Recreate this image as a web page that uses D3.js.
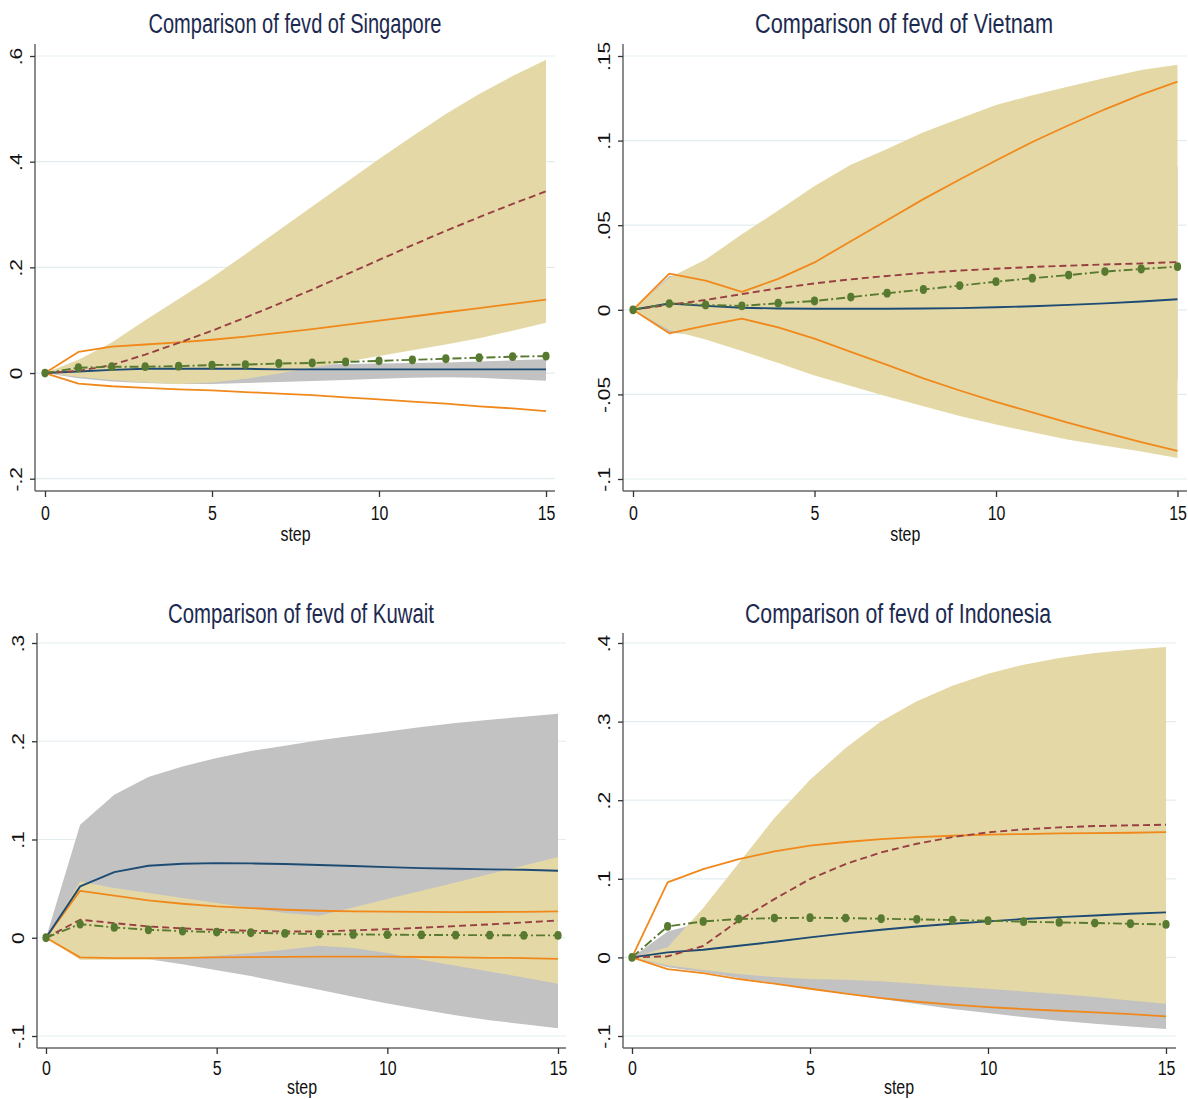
<!DOCTYPE html>
<html><head><meta charset="utf-8">
<script src="https://cdn.jsdelivr.net/npm/d3@7"></script>
<style>body{margin:0;background:#fff}svg{display:block}</style>
</head><body>
<svg id="chart" width="1188" height="1099"></svg>
<script>
// ---------- data ----------
const steps = [0,1,2,3,4,5,6,7,8,9,10,11,12,13,14,15];
const xTicks = [0,5,10,15];

// Singapore
const sgTanHi    = [0,0.025,0.058,0.1,0.14,0.181,0.225,0.27,0.315,0.36,0.405,0.448,0.49,0.528,0.562,0.593];
const sgTanLo    = [0,-0.007,-0.013,-0.018,-0.021,-0.018,-0.011,-0.001,0.01,0.021,0.032,0.043,0.054,0.066,0.08,0.095];
const sgGrayHi   = [0,0.006,0.009,0.011,0.012,0.013,0.014,0.015,0.016,0.017,0.018,0.019,0.02,0.022,0.024,0.026];
const sgGrayLo   = [0,-0.01,-0.016,-0.019,-0.021,-0.021,-0.019,-0.017,-0.015,-0.013,-0.011,-0.009,-0.008,-0.009,-0.012,-0.0145];
const sgOrangeHi = [0,0.04,0.05,0.054,0.058,0.063,0.069,0.076,0.083,0.091,0.099,0.107,0.115,0.123,0.131,0.139];
const sgOrangeLo = [0,-0.02,-0.025,-0.028,-0.031,-0.033,-0.036,-0.039,-0.042,-0.046,-0.05,-0.054,-0.058,-0.063,-0.067,-0.072];
const sgNavy     = [0,0.003,0.006,0.008,0.008,0.008,0.008,0.007,0.007,0.007,0.007,0.007,0.007,0.007,0.007,0.007];
const sgMaroon   = [0,0.004,0.015,0.035,0.057,0.08,0.105,0.131,0.158,0.186,0.214,0.242,0.269,0.295,0.32,0.344];
const sgGreen    = [0,0.01,0.012,0.012,0.013,0.015,0.016,0.018,0.019,0.021,0.023,0.025,0.027,0.029,0.031,0.032];
const sgYTicks   = [0.6,0.4,0.2,0,-0.2];
const sgYLabels  = [".6",".4",".2","0","-.2"];

// Vietnam
const vnTanHi    = [0,0.019,0.0297,0.0446,0.0587,0.0732,0.0857,0.095,0.105,0.113,0.121,0.1268,0.132,0.137,0.1417,0.1448];
const vnTanLo    = [0,-0.012,-0.0176,-0.0243,-0.0315,-0.0388,-0.045,-0.0512,-0.057,-0.0627,-0.0678,-0.0724,-0.0768,-0.0803,-0.0838,-0.0876];
const vnGrayHi   = [0,0.02,0.022,0.025,0.03,0.035,0.04,0.045,0.05,0.055,0.06,0.065,0.07,0.075,0.08,0.085];
const vnGrayLo   = [0,-0.0135,-0.015,-0.018,-0.02,-0.022,-0.024,-0.026,-0.028,-0.03,-0.032,-0.034,-0.036,-0.038,-0.04,-0.042];
const vnOrangeHi = [0,0.0214,0.0172,0.0106,0.0183,0.028,0.0405,0.0529,0.0654,0.077,0.0882,0.0992,0.1091,0.1185,0.1272,0.1349];
const vnOrangeLo = [0,-0.0139,-0.0093,-0.0052,-0.0104,-0.017,-0.0249,-0.0326,-0.0405,-0.0477,-0.0544,-0.0606,-0.0668,-0.0726,-0.0782,-0.0834];
const vnNavy     = [0,0.0037,0.0023,0.0012,0.0008,0.0006,0.0006,0.0006,0.0008,0.001,0.0015,0.0021,0.0029,0.0038,0.0049,0.0062];
const vnMaroon   = [0,0.003,0.0058,0.0093,0.0127,0.0156,0.018,0.02,0.0218,0.0232,0.0243,0.0253,0.0261,0.0268,0.0274,0.0282];
const vnGreen    = [0,0.0037,0.0029,0.0023,0.0039,0.0052,0.0075,0.0098,0.012,0.0143,0.0166,0.0187,0.0205,0.0226,0.0241,0.0255];
const vnYTicks   = [0.15,0.1,0.05,0,-0.05,-0.1];
const vnYLabels  = [".15",".1",".05","0","-.05","-.1"];

// Kuwait
const kwTanHi    = [0,0.0573,0.0506,0.0455,0.0404,0.0353,0.0302,0.0251,0.0224,0.0309,0.0394,0.0479,0.0563,0.0648,0.0736,0.0821];
const kwTanLo    = [0,-0.0224,-0.0224,-0.0224,-0.0207,-0.0183,-0.0156,-0.0122,-0.0081,-0.0105,-0.0156,-0.0224,-0.0285,-0.0343,-0.0404,-0.0468];
const kwGrayHi   = [0,0.115,0.1456,0.1636,0.1744,0.183,0.19,0.1955,0.2009,0.2056,0.21,0.2144,0.2185,0.222,0.225,0.228];
const kwGrayLo   = [0,-0.02,-0.0207,-0.022,-0.027,-0.033,-0.039,-0.046,-0.053,-0.06,-0.067,-0.073,-0.079,-0.084,-0.088,-0.092];
const kwOrangeHi = [0,0.0478,0.0428,0.038,0.0346,0.0319,0.0302,0.0285,0.0275,0.0268,0.0265,0.0263,0.0261,0.0262,0.0264,0.0268];
const kwOrangeLo = [0,-0.02,-0.0207,-0.0207,-0.0204,-0.02,-0.0197,-0.0195,-0.0193,-0.0193,-0.0193,-0.0196,-0.02,-0.0204,-0.0207,-0.0214];
const kwNavy     = [0,0.0523,0.0668,0.0733,0.0753,0.076,0.0757,0.075,0.074,0.073,0.0719,0.0709,0.0702,0.0696,0.0692,0.0682];
const kwMaroon   = [0,0.0183,0.0149,0.0115,0.0095,0.0081,0.0071,0.0064,0.0064,0.0075,0.0088,0.0102,0.0119,0.0136,0.0156,0.0176];
const kwGreen    = [0,0.0139,0.0105,0.0081,0.0068,0.0058,0.0051,0.0044,0.0037,0.0034,0.0031,0.0029,0.0027,0.0026,0.0024,0.0024];
const kwYTicks   = [0.3,0.2,0.1,0,-0.1];
const kwYLabels  = [".3",".2",".1","0","-.1"];

// Indonesia
const idTanHi    = [0,0.013,0.063,0.12,0.1773,0.226,0.2664,0.3003,0.3258,0.3457,0.361,0.3724,0.3809,0.3873,0.3915,0.395];
const idTanLo    = [0,-0.01,-0.016,-0.021,-0.025,-0.0276,-0.0284,-0.0305,-0.0335,-0.0369,-0.0399,-0.0433,-0.0467,-0.0505,-0.0547,-0.059];
const idGrayHi   = [0,0.033,0.045,0.055,0.065,0.075,0.085,0.095,0.105,0.115,0.125,0.135,0.145,0.155,0.165,0.175];
const idGrayLo   = [0,-0.0126,-0.019,-0.0263,-0.0327,-0.0399,-0.0467,-0.053,-0.0594,-0.0657,-0.0708,-0.0759,-0.0806,-0.0844,-0.0878,-0.0912];
const idOrangeHi = [0,0.0954,0.1124,0.1251,0.1349,0.1421,0.1468,0.1506,0.1531,0.1548,0.1561,0.1569,0.1578,0.1582,0.1586,0.1595];
const idOrangeLo = [0,-0.015,-0.02,-0.0275,-0.0335,-0.0399,-0.0462,-0.0517,-0.0564,-0.0602,-0.0632,-0.0657,-0.0679,-0.07,-0.0721,-0.0751];
const idNavy     = [0,0.0064,0.0098,0.0148,0.0199,0.0255,0.0305,0.0352,0.0394,0.0428,0.0458,0.0488,0.0513,0.0534,0.0556,0.0573];
const idMaroon   = [0,0.0013,0.0145,0.047,0.0742,0.0997,0.1188,0.1336,0.1446,0.1531,0.1591,0.1629,0.1654,0.1671,0.168,0.1688];
const idGreen    = [0,0.0394,0.0458,0.0488,0.05,0.0505,0.05,0.0492,0.0484,0.0475,0.0467,0.0454,0.0445,0.0437,0.0428,0.042];
const idYTicks   = [0.4,0.3,0.2,0.1,0,-0.1];
const idYLabels  = [".4",".3",".2",".1","0","-.1"];

// ---------- layout ----------
const panels = [
  {title:"Comparison of fevd of Singapore", titleX:295, titleW:293, titleY:33,
   axisX:35, x0:45, x15:546, right:555, top:44, bottom:491, yPix:[478.7,56], tickY:520, stepY:541,
   yTicks:sgYTicks, yLabels:sgYLabels,
   tanHi:sgTanHi, tanLo:sgTanLo, grayHi:sgGrayHi, grayLo:sgGrayLo, orHi:sgOrangeHi, orLo:sgOrangeLo,
   navy:sgNavy, maroon:sgMaroon, green:sgGreen},
  {title:"Comparison of fevd of Vietnam", titleX:904, titleW:298, titleY:33,
   axisX:623, x0:633, x15:1177.5, right:1187, top:44, bottom:491, yPix:[479,56], tickY:520, stepY:541,
   yTicks:vnYTicks, yLabels:vnYLabels,
   tanHi:vnTanHi, tanLo:vnTanLo, grayHi:vnGrayHi, grayLo:vnGrayLo, orHi:vnOrangeHi, orLo:vnOrangeLo,
   navy:vnNavy, maroon:vnMaroon, green:vnGreen},
  {title:"Comparison of fevd of Kuwait", titleX:301, titleW:266, titleY:623,
   axisX:37, x0:46, x15:558, right:566, top:633, bottom:1048, yPix:[1036,643], tickY:1075, stepY:1094,
   yTicks:kwYTicks, yLabels:kwYLabels,
   tanHi:kwTanHi, tanLo:kwTanLo, grayHi:kwGrayHi, grayLo:kwGrayLo, orHi:kwOrangeHi, orLo:kwOrangeLo,
   navy:kwNavy, maroon:kwMaroon, green:kwGreen},
  {title:"Comparison of fevd of Indonesia", titleX:898, titleW:306, titleY:623,
   axisX:623, x0:632, x15:1166, right:1176, top:633, bottom:1048, yPix:[1036,643], tickY:1075, stepY:1094,
   yTicks:idYTicks, yLabels:idYLabels,
   tanHi:idTanHi, tanLo:idTanLo, grayHi:idGrayHi, grayLo:idGrayLo, orHi:idOrangeHi, orLo:idOrangeLo,
   navy:idNavy, maroon:idMaroon, green:idGreen}
];

const C = {tan:"#e4d9a6", gray:"#c2c2c2", orange:"#f0881c", navy:"#1d4b73", maroon:"#983f44",
           green:"#587a30", grid:"#e3edf0", axis:"#666", title:"#1c2a50"};
const FONT = "'Liberation Sans', Arial, Helvetica, sans-serif";
const SQ = 0.76;

const svg = d3.select("#chart");
svg.append("rect").attr("width",1188).attr("height",1099).attr("fill","#fff");

panels.forEach(p => {
  const g = svg.append("g");
  const x = d3.scaleLinear().domain([0,15]).range([p.x0, p.x15]);
  const yMin = p.yTicks[p.yTicks.length-1], yMax = p.yTicks[0];
  const y = d3.scaleLinear().domain([yMin, yMax]).range(p.yPix);

  // grid
  g.append("g").selectAll("line").data(p.yTicks).join("line")
    .attr("x1", p.axisX).attr("x2", p.right)
    .attr("y1", d => y(d)).attr("y2", d => y(d))
    .attr("stroke", C.grid).attr("stroke-width", 1.2);

  const band = (lo, hi) => d3.area()
    .x((d,i) => x(steps[i])).y0((d,i) => y(lo[i])).y1((d,i) => y(hi[i]))(steps);
  const line = arr => d3.line().x((d,i) => x(steps[i])).y((d,i) => y(arr[i]))(steps);

  g.append("path").attr("d", band(p.grayLo, p.grayHi)).attr("fill", C.gray);
  g.append("path").attr("d", band(p.tanLo, p.tanHi)).attr("fill", C.tan);

  const stroke = (arr, col, w, dash) => g.append("path").attr("d", line(arr))
    .attr("fill","none").attr("stroke", col).attr("stroke-width", w)
    .attr("stroke-dasharray", dash || null).attr("stroke-linejoin","round");

  stroke(p.orHi, C.orange, 1.8);
  stroke(p.orLo, C.orange, 1.8);
  stroke(p.navy, C.navy, 1.9);
  stroke(p.maroon, C.maroon, 1.9, "7,4");
  stroke(p.green, C.green, 1.9, "9,3,2,3");
  g.append("g").selectAll("ellipse").data(steps).join("ellipse")
    .attr("cx", d => x(d)).attr("cy", (d,i) => y(p.green[i]))
    .attr("rx", 3.6).attr("ry", 4.4).attr("fill", C.green);

  // axes lines
  g.append("line").attr("x1", p.axisX).attr("x2", p.axisX).attr("y1", p.top).attr("y2", p.bottom)
    .attr("stroke", C.axis).attr("stroke-width", 1.5);
  g.append("line").attr("x1", p.axisX).attr("x2", p.right).attr("y1", p.bottom).attr("y2", p.bottom)
    .attr("stroke", C.axis).attr("stroke-width", 1.5);

  // y axis
  const ya = g.append("g").attr("transform", `translate(${p.axisX},0)`)
    .call(d3.axisLeft(y).tickValues(p.yTicks).tickFormat((d,i) => p.yLabels[i]).tickSize(5));
  ya.select(".domain").remove();
  ya.selectAll(".tick line").attr("stroke", "#333").attr("stroke-width", 1.3);
  ya.selectAll(".tick text")
    .attr("x", null).attr("dy", null).attr("text-anchor", "middle")
    .attr("transform", `translate(-13,0) scale(0.8,1) rotate(-90)`)
    .attr("font-family", FONT).attr("font-size", 21).attr("fill", "#111");

  // x axis
  const xa = g.append("g").attr("transform", `translate(0,${p.bottom})`)
    .call(d3.axisBottom(x).tickValues(xTicks).tickFormat(d3.format("d")).tickSize(6));
  xa.select(".domain").remove();
  xa.selectAll(".tick line").attr("stroke", "#333").attr("stroke-width", 1.3);
  xa.selectAll(".tick text")
    .attr("y", p.tickY - p.bottom).attr("dy", null).attr("text-anchor","middle")
    .attr("transform", `scale(${SQ},1)`)
    .attr("font-family", FONT).attr("font-size", 21).attr("fill", "#111");

  // step label
  g.append("text").attr("transform", `translate(${(p.x0+p.x15)/2},${p.stepY}) scale(${SQ},1)`)
    .attr("text-anchor","middle").attr("font-family", FONT).attr("font-size", 21).attr("fill","#111")
    .text("step");

  // title
  g.append("text").attr("x", p.titleX).attr("y", p.titleY)
    .attr("text-anchor","middle").attr("font-family", FONT).attr("font-size", 27)
    .attr("fill", C.title).attr("textLength", p.titleW).attr("lengthAdjust","spacingAndGlyphs")
    .text(p.title);
});
</script>
</body></html>
